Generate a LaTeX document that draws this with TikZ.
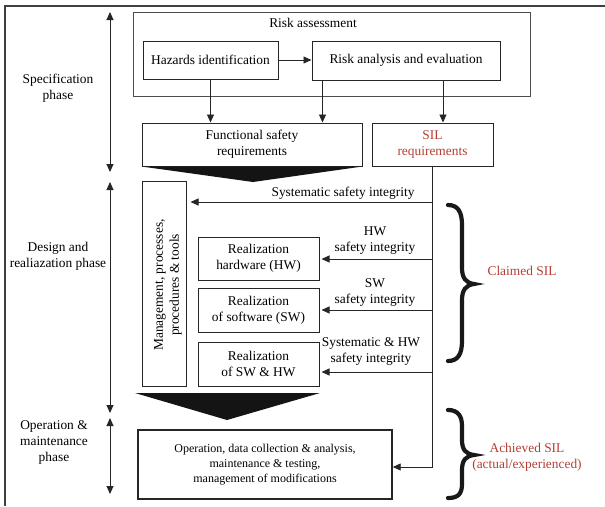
\documentclass[tikz,border=0pt]{standalone}
\usepackage{fontspec}
\setmainfont{Liberation Serif}
\usetikzlibrary{arrows.meta}
\definecolor{silred}{RGB}{180,62,52}
\begin{document}
\begin{tikzpicture}[x=1pt,y=-1pt,
  box/.style={draw=black!85, line width=1pt, inner sep=0pt, align=center, font=\fontsize{13.4}{16}\selectfont},
  txt/.style={align=center, font=\fontsize{13.4}{16}\selectfont, inner sep=0pt},
  arr/.style={-{Triangle[length=8pt,width=7pt]}, line width=0.9pt, draw=black!85},
  dbl/.style={{Triangle[length=8pt,width=7pt]}-{Triangle[length=8pt,width=7pt]}, line width=0.9pt, draw=black!85},
  brc/.style={line width=4.2pt, line cap=round, draw=black!90}
]
\useasboundingbox (0,0) rectangle (605,506);
% outer frame
\draw[line width=1.1pt, draw=black!75] (5,506) -- (5,6) -- (605,6);

% phase arrows
\coordinate (p1t) at (110,12);  \coordinate (p1b) at (110,172);
\coordinate (p2t) at (110,182); \coordinate (p2b) at (110,413);
\coordinate (p3t) at (110,418); \coordinate (p3b) at (110,494);
\draw[dbl] (p1t) -- (p1b);
\draw[dbl] (p2t) -- (p2b);
\draw[dbl] (p3t) -- (p3b);

% phase labels
\node[txt] (lspec) at (58,88) {Specification\\phase};
\node[txt] (ldes) at (58,256) {Design and\\realiazation phase};
\node[txt] (lop) at (54,442) {Operation \&\\maintenance\\phase};

% risk assessment
\node[box, draw=black!70, minimum width=397pt, minimum height=84pt] (risk) at (331.5,54) {};
\node[txt] (rtitle) at (313,23) {Risk assessment};
\node[box, minimum width=135pt, minimum height=38pt] (haz) at (210.5,60) {Hazards identification};
\node[box, minimum width=188pt, minimum height=39pt] (ana) at (406,60.5) {Risk analysis and evaluation};
\draw[arr] (haz.east) -- (ana.west |- haz.east);

% requirements
\node[box, minimum width=220pt, minimum height=43pt] (fsr) at (252,144.5) {Functional safety\\requirements};
\node[box, minimum width=121pt, minimum height=43pt, text=silred] (sil) at (432.5,144.5) {SIL\\requirements};
\fill[black!92] (fsr.south west) -- (fsr.south east) -- (253,182) -- cycle;

\draw[arr] (haz.south) -- (haz.south |- fsr.north);
\draw[arr] ([xshift=11pt]ana.south west) -- ([xshift=11pt]ana.south west |- fsr.north);
\draw[arr] ([xshift=37pt]ana.south) -- ([xshift=37pt]ana.south |- sil.north);

% design
\node[box, minimum width=44pt, minimum height=205pt] (mgmt) at (164,283.5) {};
\node[txt, rotate=90] (mgmttxt) at (168,285) {Management, processes,\\procedures \& tools};
\node[box, minimum width=121pt, minimum height=43pt] (rhw) at (258.5,258.5) {Realization\\hardware (HW)};
\node[box, minimum width=121pt, minimum height=44pt] (rsw) at (258.5,310) {Realization\\of software (SW)};
\node[box, minimum width=121pt, minimum height=44pt] (rswhw) at (258.5,364) {Realization\\of SW \& HW};
\fill[black!92] (135,393) -- (320,393) -- (227,420) -- cycle;

% operation
\node[box, line width=1.4pt, minimum width=254pt, minimum height=69pt, font=\fontsize{12}{15}\selectfont] (op) at (265,464.5) {Operation, data collection \& analysis,\\maintenance \& testing,\\management of modifications};

% SIL line and branches
\coordinate (j1) at (432.5,202);
\coordinate (j2) at (432.5,259);
\coordinate (j3) at (432.5,310);
\coordinate (j4) at (432.5,372);
\coordinate (jop) at (432.5,467);
\draw[arr] (sil.south) -- (jop) -- (op.east |- jop);
\draw[arr] (j1) -- ([xshift=4pt]mgmt.east |- j1);
\draw[arr] (j2) -- ([xshift=2pt]rhw.east |- j2);
\draw[arr] (j3) -- ([xshift=2pt]rsw.east |- j3);
\draw[arr] (j4) -- ([xshift=2pt]rswhw.east |- j4);

\node[txt] (t1) at (343,193) {Systematic safety integrity};
\node[txt] (t2) at (375,241) {HW\\safety integrity};
\node[txt] (t3) at (375,293) {SW\\safety integrity};
\node[txt] (t4) at (371,351) {Systematic \& HW\\safety integrity};

% braces
\draw[brc] (448,205) .. controls (458,205) and (462,212) .. (462,225) -- (462,268)
  .. controls (462,278) and (466,283) .. (474,284)
  .. controls (466,285) and (462,290) .. (462,300) -- (462,341)
  .. controls (462,354) and (458,361) .. (448,361);
\draw[brc] (448,410) .. controls (458,410) and (462,416) .. (462,426) -- (462,440)
  .. controls (462,450) and (466,454) .. (474,455)
  .. controls (466,456) and (462,460) .. (462,470) -- (462,484)
  .. controls (462,494) and (458,498) .. (448,498);

\node[txt, text=silred] (claimed) at (522,271) {Claimed SIL};
\node[txt, text=silred] (achieved) at (527,457) {Achieved SIL\\(actual/experienced)};
\end{tikzpicture}
\end{document}
